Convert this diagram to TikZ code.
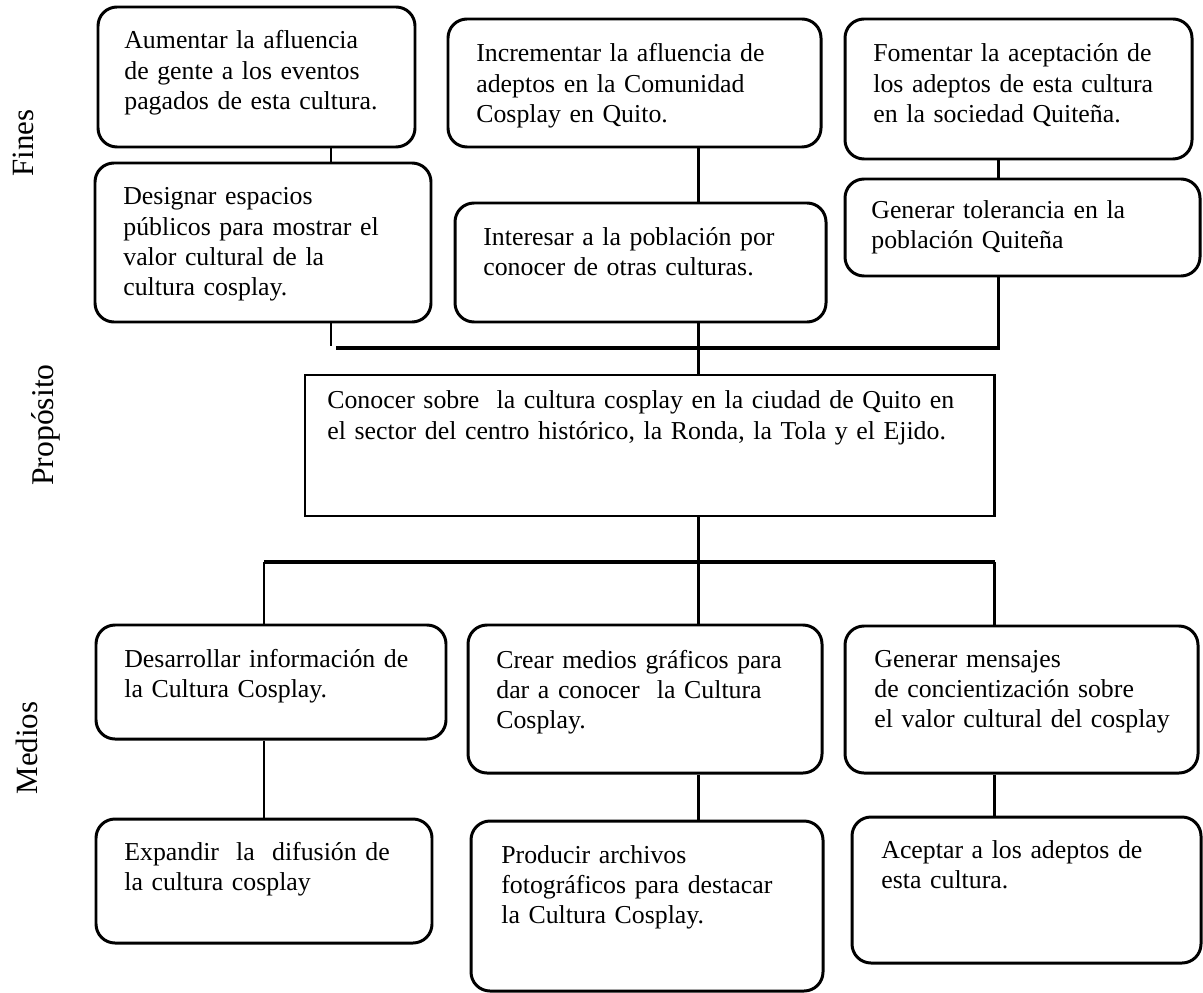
\documentclass[tikz,border=0pt]{standalone}
\usepackage{fontspec}
\setmainfont{Liberation Serif}
\usetikzlibrary{fit}

\begin{document}
\begin{tikzpicture}[x=0.02cm, y=-0.02cm,
    caja/.style={draw, line width=1.7pt, rounded corners=0.38cm, inner sep=0pt},
    plana/.style={draw, line width=1.7pt, inner sep=0pt},
    texto/.style={anchor=base west, inner sep=0pt, text width=14cm, align=left,
        font=\fontsize{14.7pt}{17.1pt}\selectfont},
    lado/.style={rotate=90, anchor=base, inner sep=0pt,
        font=\fontsize{17.6pt}{20pt}\selectfont},
    enlace/.style={line width=1.7pt},
    barra/.style={line width=2.5pt}]
    \useasboundingbox (0,0) rectangle (1203,993);

    % fines
    \node[caja, fit={(98,7) (415,147)}] (a1) {};
    \node[caja, fit={(95,163) (431,322)}] (a2) {};
    \node[caja, fit={(448,19) (821,147)}] (b1) {};
    \node[caja, fit={(455,203) (826,322)}] (b2) {};
    \node[caja, fit={(845,19) (1192,159)}] (c1) {};
    \node[caja, fit={(845,179) (1200,276)}] (c2) {};
    \node[texto] (a1t) at (124,49) {Aumentar la afluencia\\de gente a los eventos\\pagados de esta cultura.};
    \node[texto] (a2t) at (123,205) {Designar espacios\\públicos para mostrar el\\valor cultural de la\\cultura cosplay.};
    \node[texto] (b1t) at (476,62) {Incrementar la afluencia de\\adeptos en la Comunidad\\Cosplay en Quito.};
    \node[texto] (b2t) at (483,245) {Interesar a la población por\\conocer de otras culturas.};
    \node[texto] (c1t) at (873,62) {Fomentar la aceptación de\\los adeptos de esta cultura\\en la sociedad Quiteña.};
    \node[texto] (c2t) at (871,218) {Generar tolerancia en la\\población Quiteña};

    % proposito
    \node[plana, fit={(305,375) (994,516)}] (prop) {};
    \node[texto, font=\fontsize{14.7pt}{18.2pt}\selectfont] (propt) at (327,408)
        {Conocer sobre~ la cultura cosplay en la ciudad de Quito en\\el sector del centro histórico, la Ronda, la Tola y el Ejido.};

    % medios
    \node[caja, fit={(96,625) (446,739)}] (d1) {};
    \node[caja, fit={(96,819) (432,943)}] (d2) {};
    \node[caja, fit={(468,625) (822,773)}] (e1) {};
    \node[caja, fit={(471,821) (823,991)}] (e2) {};
    \node[caja, fit={(845,626) (1198,773)}] (f1) {};
    \node[caja, fit={(852,817) (1201,963)}] (f2) {};
    \node[texto] (d1t) at (124,667) {Desarrollar información de\\la Cultura Cosplay.};
    \node[texto] (d2t) at (124,860) {Expandir~ la~ difusión de\\la cultura cosplay};
    \node[texto] (e1t) at (496,668) {Crear medios gráficos para\\dar a conocer~ la Cultura\\Cosplay.};
    \node[texto] (e2t) at (501,863) {Producir archivos\\fotográficos para destacar\\la Cultura Cosplay.};
    \node[texto] (f1t) at (874,667) {Generar mensajes\\de concientización sobre\\el valor cultural del cosplay};
    \node[texto] (f2t) at (881,858) {Aceptar a los adeptos de\\esta cultura.};

    % etiquetas
    \node[lado] (fines) at (33,143) {Fines};
    \node[lado, font=\fontsize{18pt}{20pt}\selectfont] (proposito) at (53,425) {Propósito};
    \node[lado] (medios) at (37,748) {Medios};

    % lineas
    \coordinate (ka) at (331,0);
    \coordinate (kb) at (698,0);
    \coordinate (kc) at (998,0);
    \coordinate (kd) at (264,0);
    \coordinate (kf) at (994,0);
    \coordinate (ba1) at (336,348);
    \coordinate (ba2) at (1000,348);
    \coordinate (bb1) at (264,562);
    \coordinate (bb2) at (995,562);
    \coordinate (stub) at (331,346);

    \draw[enlace] (a1.south -| ka) -- (a2.north -| ka);
    \draw[enlace] (a2.south -| ka) -- (stub);
    \draw[enlace] (b1.south -| kb) -- (b2.north -| kb);
    \draw[enlace] (b2.south -| kb) -- (prop.north -| kb);
    \draw[enlace] (c1.south -| kc) -- (c2.north -| kc);
    \draw[enlace] (c2.south -| kc) -- (ba1 -| kc);
    \draw[barra] (ba1) -- (ba2);

    \draw[enlace] (prop.south -| kb) -- (e1.north -| kb);
    \draw[barra] (bb1) -- (bb2);
    \draw[enlace] (bb1 -| kd) -- (d1.north -| kd);
    \draw[enlace] (bb2 -| kf) -- (f1.north -| kf);
    \draw[enlace] (d1.south -| kd) -- (d2.north -| kd);
    \draw[enlace] (e1.south -| kb) -- (e2.north -| kb);
    \draw[enlace] (f1.south -| kf) -- (f2.north -| kf);
\end{tikzpicture}
\end{document}
